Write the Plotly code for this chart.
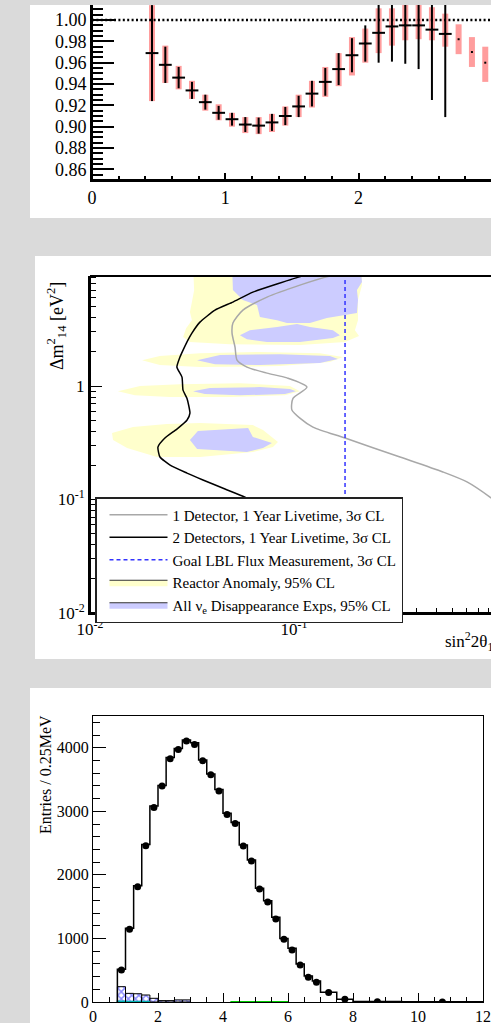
import plotly.graph_objects as go

W, H = 491, 1023
SERIF = "Liberation Serif, Times New Roman, serif"
BG = "#dadada"

# ---------------- Panel 1 : ratio ----------------
ratio_x = [0.45, 0.55, 0.65, 0.75, 0.85, 0.95, 1.05, 1.15, 1.25, 1.35, 1.45, 1.55, 1.65,
           1.75, 1.85, 1.95, 2.05, 2.15, 2.25, 2.35, 2.45, 2.55, 2.65, 2.75, 2.85, 2.95]
ratio_y = [0.969, 0.958, 0.946, 0.934, 0.923, 0.913, 0.907, 0.902, 0.901, 0.904, 0.910, 0.919, 0.931,
           0.942, 0.954, 0.967, 0.978, 0.988, 0.994, 0.995, 0.995, 0.991, 0.987, 0.982, 0.970, 0.960]
ratio_stat = [0.045, 0.017, 0.010, 0.008, 0.007, 0.0065, 0.006, 0.007, 0.0075, 0.008, 0.0085, 0.010, 0.012,
              0.013, 0.015, 0.016, 0.017, 0.028, 0.033, 0.036, 0.041, 0.066, 0.078, None, None, None]
ratio_sys_lo = [0.924, 0.941, 0.935, 0.926, 0.915, 0.906, 0.900, 0.894, 0.893, 0.895, 0.901, 0.909, 0.918,
                0.928, 0.938, 0.948, 0.960, 0.969, 0.976, 0.981, 0.982, 0.981, 0.975, 0.968, 0.956, 0.942]
ratio_sys_hi = [1.014, 0.976, 0.957, 0.943, 0.930, 0.921, 0.913, 0.909, 0.909, 0.912, 0.919, 0.930, 0.943,
                0.956, 0.969, 0.984, 0.992, 1.011, 1.011, 1.016, 1.016, 1.012, 1.006, 0.996, 0.984, 0.975]
ratio_bin_halfwidth = 0.048
ratio_ref = 1.0

# ---------------- Panel 2 : sensitivity contours ----------------
sens1_s2t = [0.178, 0.150, 0.1069, 0.0738, 0.0562, 0.0502, 0.0497, 0.0514, 0.0526, 0.0588, 0.0738, 0.0924,
             0.1158, 0.0989, 0.0977, 0.1069, 0.1239, 0.178, 0.331, 0.537, 0.705, 0.914, 1.02]
sens1_dm2 = [9.9, 9.31, 7.75, 6.08, 4.67, 3.59, 2.93, 2.21, 1.69, 1.47, 1.30, 1.18,
             0.98, 0.78, 0.615, 0.522, 0.435, 0.348, 0.237, 0.175, 0.143, 0.105, 0.0896]
sens2_s2t = [0.1268, 0.1094, 0.0629, 0.0502, 0.041, 0.0346, 0.0316, 0.0302, 0.0289, 0.02761, 0.02667, 0.02825,
             0.02858, 0.02987, 0.0309, 0.02987, 0.02667, 0.0233, 0.02153, 0.02203, 0.0247, 0.02987, 0.0358,
             0.0459, 0.0575, 0.1069]
sens2_dm2 = [9.9, 9.31, 6.73, 5.50, 4.67, 3.66, 2.93, 2.54, 2.16, 1.80, 1.47, 1.20,
             0.92, 0.78, 0.578, 0.50, 0.418, 0.348, 0.290, 0.237, 0.201, 0.171, 0.1487,
             0.1237, 0.105, 0.0596]
goal_flux_s2t = 0.178

reactor_s2t = [0.0320, 0.0324, 0.0316, 0.0309, 0.0316, 0.0296, 0.0286, 0.0309, 0.0485, 0.107, 0.178, 0.2085,
               0.199, 0.206, 0.206, 0.2155, 0.2155, None,
               0.0180, 0.0220, 0.0346, 0.0681, 0.134, 0.1738, 0.150, 0.0853, 0.0346, 0.0220, None,
               0.01371, 0.0176, 0.02761, 0.0543, 0.0955, 0.1069, 0.0903, 0.0485, 0.0247, 0.0166, None,
               0.01282, 0.01625, 0.0238, 0.0346, 0.0629, 0.0705, 0.0835, 0.0789, 0.0629, 0.0346, 0.0213,
               0.0152, 0.01297]
reactor_dm2 = [12, 7.0, 5.5, 4.5, 3.8, 3.24, 2.70, 2.44, 2.34, 2.30, 2.44, 2.76,
               3.11, 3.81, 5.73, 7.75, 12, None,
               1.69, 1.84, 1.95, 2.00, 1.95, 1.80, 1.63, 1.50, 1.47, 1.53, None,
               0.90, 1.00, 1.04, 1.06, 1.00, 0.90, 0.83, 0.80, 0.80, 0.83, None,
               0.385, 0.435, 0.462, 0.472, 0.453, 0.409, 0.321, 0.290, 0.262, 0.237, 0.237,
               0.284, 0.334]
alldis_s2t = [0.0497, 0.0502, 0.0562, 0.0659, 0.0681, 0.0826, 0.0924, 0.1197, 0.145, 0.2036, 0.206, 0.2036,
              0.2155, 0.211, None,
              0.0543, 0.0608, 0.0826, 0.1035, 0.1197, 0.1552, 0.168, 0.1552, 0.1069, 0.0738, 0.0588, None,
              0.0335, 0.0434, 0.0853, 0.150, 0.1643, 0.134, 0.0681, 0.041, None,
              0.032, 0.0387, 0.0681, 0.0955, 0.1023, 0.0903, 0.0543, 0.0366, None,
              0.0309, 0.0338, 0.0596, 0.0629, 0.0780, 0.0705, 0.0588, 0.0335]
alldis_dm2 = [12, 7.01, 5.73, 5.17, 4.06, 3.81, 3.59, 3.59, 3.97, 4.40, 5.73, 7.01,
              8.25, 12, None,
              2.81, 3.11, 3.31, 3.52, 3.31, 3.11, 2.81, 2.65, 2.44, 2.44, 2.59, None,
              1.69, 1.88, 1.91, 1.84, 1.73, 1.60, 1.53, 1.56, None,
              0.90, 0.96, 0.98, 0.94, 0.90, 0.85, 0.83, 0.85, None,
              0.334, 0.402, 0.427, 0.356, 0.315, 0.284, 0.262, 0.279]

# ---------------- Panel 3 : prompt energy spectrum ----------------
e_edges = [0.75, 1.0, 1.25, 1.5, 1.75, 2.0, 2.25, 2.5, 2.75, 3.0, 3.25, 3.5, 3.75, 4.0, 4.25, 4.5,
           4.75, 5.0, 5.25, 5.5, 5.75, 6.0, 6.25, 6.5, 6.75, 7.0, 7.5, 8.0, 9.5, 12.0]
mc_counts = [514, 1159, 1830, 2480, 3083, 3408, 3848, 3990, 4121, 4079, 3806, 3586, 3345, 2968, 2826,
             2469, 2234, 1788, 1594, 1332, 1001, 844, 598, 409, 330, 152, 45, 8, 2]
data_counts = [503, 1143, 1814, 2459, 3062, 3397, 3827, 3974, 4105, 4053, 3796, 3576, 3319, 2952, 2810,
               2454, 2218, 1777, 1573, 1305, 986, 818, 582, 388, 309, 150, 45, 5, 0]
bkg_edges = [0.75, 1.0, 1.25, 1.5, 1.75, 2.0, 2.25, 2.5, 2.75, 3.0]
bkg_counts = [241, 136, 130, 110, 58, 22, 22, 33, 33]
cyan_edges = [0.75, 1.0, 1.25, 1.5, 1.75]
cyan_counts = [10, 8, 8, 6]
green_edges = [4.25, 4.5, 4.75, 5.0, 5.25, 5.5, 5.75, 6.0]
green_counts = [5, 5, 5, 5, 5, 5, 5]


def px(x):
    return x / W


def py(y):
    return 1 - y / H


def step_xy(edges, counts):
    xs = [edges[0]] + list(edges[:-1]) + [edges[-1]]
    ys = [0] + list(counts) + [counts[-1]]
    return xs, ys


fig = go.Figure()

# ----- panel 1 traces -----
fig.add_trace(go.Bar(
    x=ratio_x, y=[h - l for h, l in zip(ratio_sys_hi, ratio_sys_lo)], base=ratio_sys_lo,
    width=0.045, marker=dict(color="#ff9d9d", line=dict(width=0)),
    xaxis="x", yaxis="y", showlegend=False, hoverinfo="skip"))
fig.add_trace(go.Scatter(
    x=[0, 3], y=[ratio_ref, ratio_ref], mode="lines",
    line=dict(color="black", width=2.5, dash="2px,2.4px"),
    xaxis="x", yaxis="y", showlegend=False, hoverinfo="skip"))
fig.add_trace(go.Scatter(
    x=ratio_x, y=ratio_y, mode="markers",
    marker=dict(color="black", size=2, symbol="square"),
    error_y=dict(type="data", array=[s if s is not None else 0 for s in ratio_stat],
                 color="black", thickness=2, width=0),
    error_x=dict(type="data", array=[ratio_bin_halfwidth if s is not None else 0 for s in ratio_stat],
                 color="black", thickness=2, width=0),
    xaxis="x", yaxis="y", showlegend=False))

# ----- panel 2 traces -----
fig.add_trace(go.Scatter(
    x=reactor_s2t, y=reactor_dm2, mode="lines", fill="toself", fillcolor="#ffffcc",
    line=dict(width=0, color="#ffffcc"), xaxis="x2", yaxis="y2", showlegend=False, hoverinfo="skip"))
fig.add_trace(go.Scatter(
    x=alldis_s2t, y=alldis_dm2, mode="lines", fill="toself", fillcolor="#ccccff",
    line=dict(width=0, color="#ccccff"), xaxis="x2", yaxis="y2", showlegend=False, hoverinfo="skip"))
fig.add_trace(go.Scatter(
    x=sens1_s2t, y=sens1_dm2, mode="lines", line=dict(color="#a8a8a8", width=1.5, shape="spline", smoothing=0.7),
    xaxis="x2", yaxis="y2", name="1 Detector, 1 Year Livetime, 3σ CL", legendrank=1))
fig.add_trace(go.Scatter(
    x=sens2_s2t, y=sens2_dm2, mode="lines", line=dict(color="black", width=1.5, shape="spline", smoothing=0.5),
    xaxis="x2", yaxis="y2", name="2 Detectors, 1 Year Livetime, 3σ CL", legendrank=2))
fig.add_trace(go.Scatter(
    x=[goal_flux_s2t, goal_flux_s2t], y=[0.01, 10], mode="lines",
    line=dict(color="#3333ff", width=1.5, dash="4px,3px"),
    xaxis="x2", yaxis="y2", name="Goal LBL Flux Measurement, 3σ CL", legendrank=3))
fig.add_trace(go.Scatter(
    x=[None], y=[None], mode="lines", fill="toself", fillcolor="#ffffcc",
    line=dict(color="#333333", width=1), xaxis="x2", yaxis="y2",
    name="Reactor Anomaly, 95% CL", legendrank=4))
fig.add_trace(go.Scatter(
    x=[None], y=[None], mode="lines", fill="toself", fillcolor="#ccccff",
    line=dict(color="#333333", width=1), xaxis="x2", yaxis="y2",
    name="All ν<sub>e</sub> Disappearance Exps, 95% CL", legendrank=5))

# ----- panel 3 traces -----
bkg_centers = [(a + b) / 2 for a, b in zip(bkg_edges[:-1], bkg_edges[1:])]
fig.add_trace(go.Bar(
    x=bkg_centers, y=bkg_counts, width=0.25,
    marker=dict(color="white", line=dict(color="black", width=1),
                pattern=dict(shape="x", fgcolor="#1a1aff", bgcolor="white", size=5, solidity=0.5)),
    xaxis="x3", yaxis="y3", showlegend=False, hoverinfo="skip"))
cx, cy = step_xy(cyan_edges, cyan_counts)
fig.add_trace(go.Scatter(x=cx, y=cy, mode="lines", line=dict(color="#00b0b0", width=1.5, shape="hv"),
                         xaxis="x3", yaxis="y3", showlegend=False, hoverinfo="skip"))
gx, gy = step_xy(green_edges, green_counts)
fig.add_trace(go.Scatter(x=gx, y=gy, mode="lines", line=dict(color="#00cc00", width=1.5, shape="hv"),
                         xaxis="x3", yaxis="y3", showlegend=False, hoverinfo="skip"))
sx, sy = step_xy(e_edges, mc_counts)
fig.add_trace(go.Scatter(x=sx, y=sy, mode="lines", line=dict(color="black", width=1.5, shape="hv"),
                         xaxis="x3", yaxis="y3", showlegend=False, hoverinfo="skip"))
e_centers = [(a + b) / 2 for a, b in zip(e_edges[:-1], e_edges[1:])]
fig.add_trace(go.Scatter(x=e_centers, y=data_counts, mode="markers",
                         marker=dict(color="black", size=7, symbol="circle"),
                         xaxis="x3", yaxis="y3", showlegend=False))

tickfont = dict(family=SERIF, size=18, color="black")
common = dict(showgrid=False, zeroline=False, showline=True, linecolor="black", ticks="inside",
              tickcolor="black", automargin=False)

log_minor_x = [0.02, 0.03, 0.04, 0.05, 0.06, 0.07, 0.08, 0.09, 0.2, 0.3, 0.4, 0.5, 0.6, 0.7, 0.8, 0.9]
log_minor_y = log_minor_x + [2, 3, 4, 5, 6, 7, 8, 9]


def frame_line(xref, yref, x0, x1, y0, y1, w=2):
    return dict(type="line", xref=xref, yref=yref, x0=x0, x1=x1, y0=y0, y1=y1,
                line=dict(color="black", width=w), layer="above")


fig.update_layout(
    width=W, height=H, margin=dict(l=0, r=0, t=0, b=0, pad=0, autoexpand=False),
    paper_bgcolor=BG, plot_bgcolor="white", barmode="overlay",
    font=dict(family=SERIF, color="black"),
    xaxis=dict(domain=[px(92), 1], range=[0, 2.993], anchor="y", dtick=1, tick0=0,
               ticklen=7, tickwidth=2, linewidth=2, tickfont=tickfont,
               minor=dict(dtick=0.2, tick0=0, ticklen=4, tickwidth=1.5, ticks="inside", tickcolor="black"),
               **common),
    yaxis=dict(domain=[py(180), py(5)], range=[0.85, 1.0141], anchor="x", dtick=0.02, tick0=0,
               tickformat=".2f", ticklen=22, tickwidth=2, linewidth=2, tickfont=tickfont,
               minor=dict(dtick=0.005, tick0=0, ticklen=11, tickwidth=2, ticks="inside", tickcolor="black"),
               **common),
    xaxis2=dict(type="log", domain=[px(90), 1], range=[-2, -0.034], anchor="y2",
                tickmode="array", tickvals=[0.01, 0.1], ticktext=["10<sup>-2</sup>", "10<sup>-1</sup>"],
                ticklen=10, tickwidth=1.2, linewidth=2, tickfont=dict(family=SERIF, size=17, color="black"),
                minor=dict(tickmode="array", tickvals=log_minor_x, ticklen=5, tickwidth=1, ticks="inside",
                           tickcolor="black"),
                **common),
    yaxis2=dict(type="log", domain=[py(613), py(276)], range=[-2, 0.97], anchor="x2",
                tickmode="array", tickvals=[0.01, 0.1, 1], ticktext=["10<sup>-2</sup>", "10<sup>-1</sup>", "1"],
                ticklen=12, tickwidth=1.2, linewidth=2, tickfont=dict(family=SERIF, size=17, color="black"),
                minor=dict(tickmode="array", tickvals=log_minor_y, ticklen=6, tickwidth=1, ticks="inside",
                           tickcolor="black"),
                **common),
    xaxis3=dict(domain=[px(93), px(483)], range=[0, 12], anchor="y3", dtick=2, tick0=0,
                ticklen=9, tickwidth=1.2, linewidth=1.2, mirror=True,
                tickfont=dict(family=SERIF, size=16, color="black"),
                minor=dict(dtick=0.5, tick0=0, ticklen=5, tickwidth=1, ticks="inside", tickcolor="black"),
                **common),
    yaxis3=dict(domain=[py(1002), py(716)], range=[0, 4500], anchor="x3", dtick=1000, tick0=0,
                ticklen=13, tickwidth=1.2, linewidth=1.2, mirror=True,
                tickfont=dict(family=SERIF, size=16, color="black"),
                minor=dict(dtick=200, tick0=0, ticklen=7, tickwidth=1, ticks="inside", tickcolor="black"),
                **common),
    legend=dict(x=px(95), y=py(497), xanchor="left", yanchor="top", bgcolor="white",
                bordercolor="#222222", borderwidth=1.5, itemwidth=58, tracegroupgap=0,
                indentation=8, entrywidth=320, entrywidthmode="pixels",
                font=dict(family=SERIF, size=15, color="black")),
    shapes=[
        dict(type="rect", xref="paper", yref="paper", x0=px(30), x1=1, y0=py(218), y1=py(5),
             fillcolor="white", line=dict(width=0), layer="below"),
        dict(type="rect", xref="paper", yref="paper", x0=px(35), x1=1, y0=py(659), y1=py(256),
             fillcolor="white", line=dict(width=0), layer="below"),
        dict(type="rect", xref="paper", yref="paper", x0=px(30), x1=1, y0=0, y1=py(688),
             fillcolor="white", line=dict(width=0), layer="below"),
        frame_line("x domain", "y domain", 0, 1, 0, 0),
        frame_line("x domain", "y domain", 0, 0, 0, 1),
        frame_line("x2 domain", "y2 domain", 0, 1, 1, 1),
        frame_line("x2 domain", "y2 domain", 0, 1, 0, 0),
        frame_line("x2 domain", "y2 domain", 0, 0, 0, 1),
    ],
    annotations=[
        dict(text="Δm<sup>2</sup><sub>14</sub> [eV<sup>2</sup>]", xref="paper", yref="paper",
             x=px(57), y=py(326), xanchor="center", yanchor="middle", textangle=-90, showarrow=False,
             font=dict(family=SERIF, size=18, color="black")),
        dict(text="sin<sup>2</sup>2θ<sub>14</sub>", xref="paper", yref="paper",
             x=px(443), y=py(641), xanchor="left", yanchor="middle", showarrow=False,
             font=dict(family=SERIF, size=17, color="black")),
        dict(text="Entries / 0.25MeV", xref="paper", yref="paper",
             x=px(45), y=py(775), xanchor="center", yanchor="middle", textangle=-90, showarrow=False,
             font=dict(family=SERIF, size=16, color="black")),
    ],
)

fig.write_html("out.html")
